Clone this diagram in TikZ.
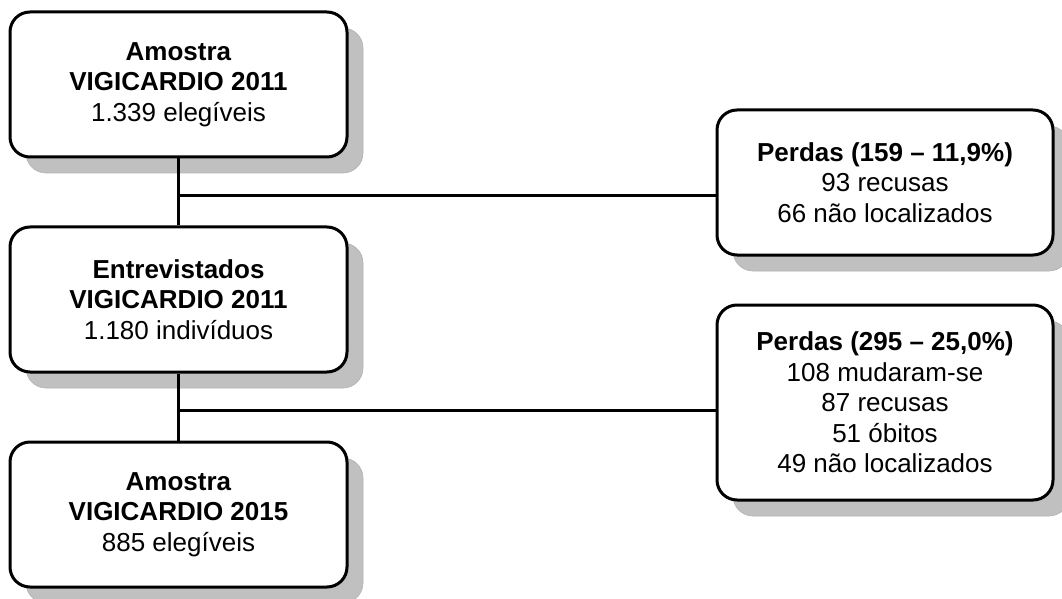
\documentclass[tikz,border=0pt]{standalone}
\usepackage{fontspec}
\setmainfont{Liberation Sans}
\usepackage{xcolor}
\usepackage{tikz}
\usetikzlibrary{
  positioning,
  calc,
  shadows
}
\definecolor{shadowgray}{RGB}{192,192,192}
\tikzset{
  stagebox/.style={
    draw=black,
    line width=3pt,
    fill=white,
    rounded corners=20pt,
    align=center,
    minimum width=337pt,
    minimum height=145pt,
    inner sep=6pt,
    font=\fontsize{26}{30.5}\selectfont,
    drop shadow={shadow xshift=16pt,shadow yshift=-16pt,fill=shadowgray,draw=black!30,line width=0.6pt,opacity=1}
  },
  lossbox/.style={stagebox,minimum width=336pt},
  link/.style={line width=3pt,draw=black}
}

\begin{document}
\begin{tikzpicture}[x=1pt,y=1pt,node distance=67pt]
  \useasboundingbox (0,0) rectangle (1062,598);

  \node[stagebox] (sample11) at (178.5,513.5) {\textbf{Amostra}\\\textbf{VIGICARDIO 2011}\\1.339 elegíveis};
  \node[stagebox,below=of sample11] (interv11) {\textbf{Entrevistados}\\\textbf{VIGICARDIO 2011}\\1.180 indivíduos};
  \node[stagebox,below=of interv11] (sample15) {\textbf{Amostra}\\\textbf{VIGICARDIO 2015}\\885 elegíveis};

  \node[lossbox] (loss1) at (885,415.5) {\textbf{Perdas (159 – 11,9\%)}\\93 recusas\\66 não localizados};
  \node[lossbox,minimum height=195pt] (loss2) at (885,195.5) {\textbf{Perdas (295 – 25,0\%)}\\108 mudaram-se\\87 recusas\\51 óbitos\\49 não localizados};

  \coordinate (split1) at ($(sample11.south)+(0,-37pt)$);
  \coordinate (split2) at ($(interv11.south)+(0,-37pt)$);

  \draw[link] (sample11.south) -- (interv11.north);
  \draw[link] (interv11.south) -- (sample15.north);
  \draw[link] (split1) -- (split1 -| loss1.west);
  \draw[link] (split2) -- (split2 -| loss2.west);
\end{tikzpicture}
\end{document}
